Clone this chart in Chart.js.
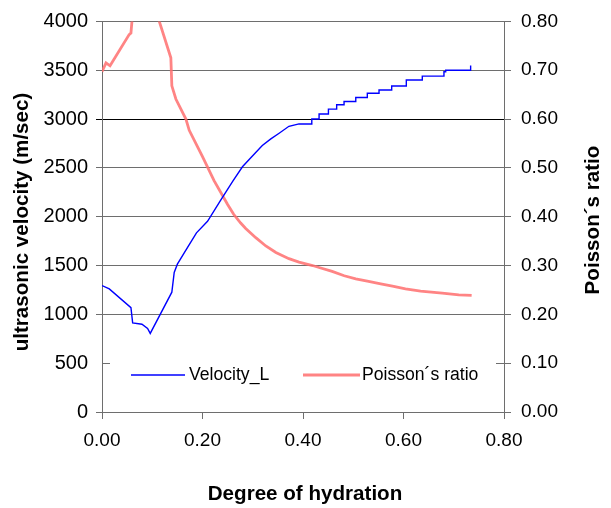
<!DOCTYPE html>
<html>
<head>
<meta charset="utf-8">
<script src="https://cdn.jsdelivr.net/npm/chart.js@4/dist/chart.umd.min.js"></script>
<style>
  html, body { margin: 0; padding: 0; background: #fff; }
  #wrap { width: 611px; height: 508px; position: relative; }
</style>
</head>
<body>
<div id="wrap"><canvas id="c" width="611" height="508"></canvas></div>
<script>
// ---- data ----
const velX = [0, 0.0145, 0.0576, 0.061, 0.0795, 0.0907, 0.096, 0.139, 0.1437, 0.150, 0.170, 0.188, 0.21, 0.235, 0.261, 0.2795, 0.2975, 0.319, 0.336, 0.3525, 0.372, 0.392,
  0.4175, 0.4175, 0.432, 0.432, 0.4506, 0.4506, 0.467, 0.467, 0.4817, 0.4817, 0.505, 0.505, 0.528, 0.528, 0.5513, 0.5513, 0.5765, 0.5765, 0.6056, 0.6056, 0.6374, 0.6374, 0.6805, 0.6805, 0.684, 0.684, 0.7336, 0.7336];
const velY = [1295, 1261, 1068, 912, 899, 855, 805, 1227, 1429, 1514, 1683, 1835, 1953, 2160, 2369, 2511, 2612, 2730, 2797, 2855, 2926, 2950,
  2950, 3000, 3000, 3051, 3051, 3102, 3102, 3146, 3146, 3180, 3180, 3220, 3220, 3264, 3264, 3298, 3298, 3339, 3339, 3400, 3400, 3440, 3440, 3484, 3484, 3500, 3500, 3548];

const poisX = [0.0, 0.008, 0.016, 0.054, 0.0576, 0.0596, 0.062, 0.072, 0.09, 0.114, 0.137, 0.139, 0.147, 0.167, 0.1736, 0.2, 0.223, 0.25, 0.262, 0.276, 0.286, 0.306, 0.326, 0.346, 0.372, 0.392, 0.419, 0.432, 0.458, 0.482, 0.505, 0.528, 0.5547, 0.578, 0.604, 0.634, 0.677, 0.71, 0.7356];
const poisY = [0.697, 0.715, 0.709, 0.773, 0.776, 0.80, 0.86, 0.90, 0.88, 0.80, 0.7256, 0.668, 0.641, 0.600, 0.577, 0.523, 0.474, 0.425, 0.405, 0.387, 0.376, 0.357, 0.340, 0.3266, 0.314, 0.307, 0.300, 0.296, 0.288, 0.279, 0.2726, 0.268, 0.2625, 0.2576, 0.2523, 0.2475, 0.2434, 0.240, 0.2387];

const xTicks = [0, 0.2, 0.4, 0.6, 0.8];
const seriesNames = ['Velocity_L', 'Poisson\u00b4s ratio'];
const titleX = 'Degree of hydration';
const titleYL = 'ultrasonic velocity (m/sec)';
const titleYR = 'Poisson\u00b4s ratio';

const FONT = '"Liberation Sans", Arial, sans-serif';
const BLUE = '#0000ff';
const RED = 'rgba(255,110,110,0.85)';
const AXIS = '#6e6e6e';

const velData = velX.map((x, i) => ({ x: x, y: velY[i] }));
const poisData = poisX.map((x, i) => ({ x: x, y: poisY[i] }));

const extras = {
  id: 'extras',
  afterDraw(chart) {
    const ctx = chart.ctx;
    const ca = chart.chartArea;
    const yl = chart.scales.y;
    const yr = chart.scales.y2;
    ctx.save();
    ctx.strokeStyle = AXIS;
    ctx.lineWidth = 1;
    const y500 = Math.round(yl.getPixelForValue(500)) + 0.5;
    ctx.beginPath();
    ctx.moveTo(ca.left, y500); ctx.lineTo(ca.left + 8, y500);
    const y01 = Math.round(yr.getPixelForValue(0.1)) + 0.5;
    ctx.moveTo(ca.right - 8, y01); ctx.lineTo(ca.right, y01);
    ctx.stroke();

    // legend
    const ly = 375;
    ctx.lineWidth = 1.3;
    ctx.strokeStyle = BLUE;
    ctx.beginPath(); ctx.moveTo(131, ly); ctx.lineTo(185, ly); ctx.stroke();
    ctx.lineWidth = 2.8;
    ctx.strokeStyle = RED;
    ctx.beginPath(); ctx.moveTo(303, ly); ctx.lineTo(360, ly); ctx.stroke();
    ctx.fillStyle = '#000';
    ctx.font = '17.6px ' + FONT;
    ctx.textBaseline = 'middle';
    ctx.textAlign = 'left';
    ctx.fillText(seriesNames[0], 189, ly);
    ctx.fillText(seriesNames[1], 362, ly);

    // axis titles
    ctx.font = 'bold 20.6px ' + FONT;
    ctx.textAlign = 'center';
    ctx.fillText(titleX, 305, 494);
    ctx.save();
    ctx.translate(22, 222);
    ctx.rotate(-Math.PI / 2);
    ctx.fillText(titleYL, 0, 0);
    ctx.restore();
    ctx.save();
    ctx.translate(593, 220);
    ctx.rotate(-Math.PI / 2);
    ctx.fillText(titleYR, 0, 0);
    ctx.restore();
    ctx.restore();
  }
};

new Chart(document.getElementById('c'), {
  type: 'line',
  data: {
    datasets: [
      { label: seriesNames[0], data: velData, yAxisID: 'y', borderColor: BLUE, borderWidth: 1.4, pointRadius: 0, tension: 0, fill: false, clip: 0 },
      { label: seriesNames[1], data: poisData, yAxisID: 'y2', borderColor: RED, borderWidth: 2.8, pointRadius: 0, tension: 0, fill: false, clip: 0 }
    ]
  },
  options: {
    responsive: false,
    animation: false,
    events: [],
    layout: { padding: { top: 18, left: 0, right: 0, bottom: 0 } },
    plugins: { legend: { display: false }, tooltip: { enabled: false } },
    scales: {
      x: {
        type: 'linear', min: 0, max: 0.8,
        afterFit(s) { s.height = 96; },
        afterBuildTicks(s) { s.ticks = xTicks.map(v => ({ value: v })); },
        ticks: { color: '#000', font: { family: FONT, size: 19 }, padding: 10, callback: v => Number(v).toFixed(2), maxRotation: 0 },
        grid: { drawOnChartArea: false, color: AXIS, tickLength: 7 },
        border: { color: AXIS, width: 1 }
      },
      y: {
        position: 'left', min: 0, max: 4000,
        afterFit(s) { s.width = 102; },
        ticks: { stepSize: 500, color: '#000', font: { family: FONT, size: 20 }, padding: 8, callback: v => String(v) },
        grid: {
          tickLength: 6,
          color: c => (c.tick && c.tick.value === 500) ? 'rgba(0,0,0,0)' : (c.tick && c.tick.value === 3000 ? '#000' : AXIS)
        },
        border: { color: AXIS, width: 1 }
      },
      y2: {
        position: 'right', min: 0, max: 0.8,
        afterFit(s) { s.width = 107; },
        ticks: { stepSize: 0.1, color: '#000', font: { family: FONT, size: 19 }, padding: 10, callback: v => Number(v).toFixed(2) },
        grid: { drawOnChartArea: false, color: AXIS, tickLength: 7 },
        border: { color: AXIS, width: 1 }
      }
    }
  },
  plugins: [extras]
});
</script>
</body>
</html>
